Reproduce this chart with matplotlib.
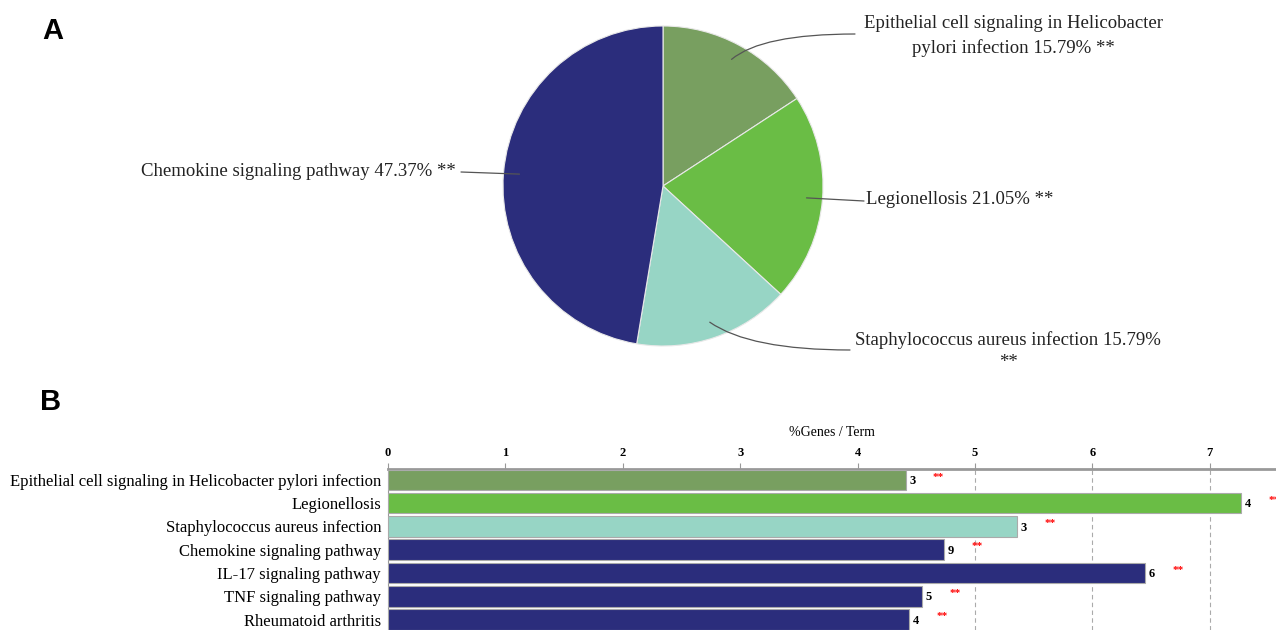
import numpy as np
import matplotlib.pyplot as plt

# Panel A: share of enriched genes per KEGG term
pie_terms = ["Epithelial cell signaling in Helicobacter\npylori infection 15.79% **",
             "Legionellosis 21.05% **",
             "Staphylococcus aureus infection 15.79%\n**",
             "Chemokine signaling pathway 47.37% **"]
pie_pct = [15.79, 21.05, 15.79, 47.37]

# Panel B: %genes / term with gene counts
bar_terms = ["Epithelial cell signaling in Helicobacter pylori infection",
             "Legionellosis",
             "Staphylococcus aureus infection",
             "Chemokine signaling pathway",
             "IL-17 signaling pathway",
             "TNF signaling pathway",
             "Rheumatoid arthritis"]
bar_pct = [4.41, 7.27, 5.36, 4.74, 6.45, 4.55, 4.44]
bar_count = [3, 4, 3, 9, 6, 5, 4]
bar_sig = ["**"] * 7

green_dk = "#789f60"
green_lt = "#6abd45"
teal = "#97d5c5"
navy = "#2b2d7c"
pie_colors = [green_dk, green_lt, teal, navy]
bar_colors = [green_dk, green_lt, teal, navy, navy, navy, navy]

W, H = 1276, 630
fig = plt.figure(figsize=(W / 100, H / 100), dpi=100)
serif = "Liberation Serif"

# ---- pie ----
cx, cy, r = 663, 186, 160
axp = fig.add_axes([(cx - r) / W, (H - cy - r) / H, 2 * r / W, 2 * r / H])
wedges, _ = axp.pie(pie_pct, colors=pie_colors, startangle=90, counterclock=False,
                    radius=1, wedgeprops=dict(edgecolor="#e8e8e8", linewidth=0.8))
axp.set_xlim(-1, 1)
axp.set_ylim(-1, 1)
axp.set_aspect("equal")
axp.axis("off")

# label centre (figure pixels, from top), connector end and its shape
lab_pos = [(1013, 36), (960, 200), (1008, 351), (298, 172)]
line_end = [(855, 34), (864, 201), (850, 350), (461, 172)]
conn = ["angle3,angleA=0,angleB=40", "arc3,rad=0", "angle3,angleA=0,angleB=-35",
        "arc3,rad=0"]
ang0 = 90
for i, p in enumerate(pie_pct):
    mid = np.deg2rad(ang0 - p * 3.6 / 2)
    ang0 -= p * 3.6
    px, py = 0.9 * np.cos(mid), 0.9 * np.sin(mid)
    ex, ey = line_end[i]
    axp.annotate("", xy=(px, py), xycoords="data",
                 xytext=(ex, H - ey), textcoords="figure pixels",
                 arrowprops=dict(arrowstyle="-", color="#555555", lw=0.9,
                                 shrinkA=0, shrinkB=0, connectionstyle=conn[i]))
    tx, ty = lab_pos[i]
    fig.text(tx / W, 1 - ty / H, pie_terms[i], ha="center", va="center",
             fontsize=13.5, family=serif, color="#222222", linespacing=1.45)

# ---- bars ----
x0, x1 = 388, W
y0, y1 = 469, 630
axb = fig.add_axes([x0 / W, 1 - y1 / H, (x1 - x0) / W, (y1 - y0) / H])
ypos = np.arange(len(bar_terms))
axb.barh(ypos, bar_pct, height=0.88, color=bar_colors, edgecolor="#aaaaaa",
         linewidth=0.8, zorder=3)
for y, v, n, s in zip(ypos, bar_pct, bar_count, bar_sig):
    axb.text(v + 0.03, y + 0.05, str(n), ha="left", va="center", fontsize=9,
             fontweight="bold", family=serif, zorder=4)
    axb.text(v + 0.28, y - 0.12, s, ha="center", va="center", fontsize=8,
             fontweight="bold", color="red", family=serif, zorder=4)

axb.set_xlim(0, (x1 - x0) / 117.4)
axb.set_ylim(len(bar_terms) - 0.55, -0.47)
axb.set_xticks(range(8))
axb.xaxis.tick_top()
axb.xaxis.set_label_position("top")
axb.tick_params(axis="x", length=4, color="#999999", pad=3, labelsize=9)
for lab in axb.get_xticklabels():
    lab.set_fontweight("bold")
    lab.set_family(serif)
axb.set_xlabel("%Genes / Term", family=serif, fontsize=10, labelpad=8)
axb.set_yticks(ypos)
axb.set_yticklabels(bar_terms, family=serif, fontsize=12)
axb.tick_params(axis="y", length=0, pad=5)
axb.grid(axis="x", linestyle=(0, (4, 3)), color="#aaaaaa", linewidth=0.8, zorder=0)
for sp in ["right", "bottom"]:
    axb.spines[sp].set_visible(False)
axb.spines["top"].set_color("#999999")
axb.spines["top"].set_linewidth(2)
axb.spines["left"].set_color("#999999")
axb.spines["left"].set_linewidth(0.8)

fig.text(42 / W, 1 - 31 / H, "A", fontsize=21, fontweight="bold",
         family="Liberation Sans", va="center", ha="left")
fig.text(40 / W, 1 - 402 / H, "B", fontsize=21, fontweight="bold",
         family="Liberation Sans", va="center", ha="left")

fig.savefig("out.png", dpi=100)
